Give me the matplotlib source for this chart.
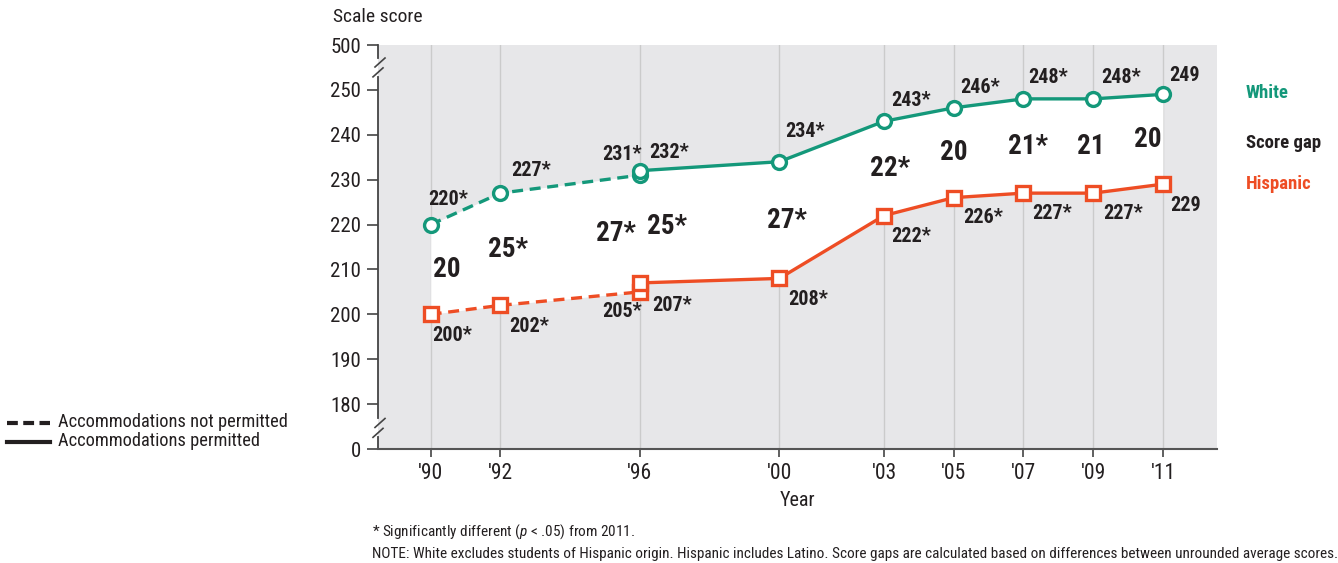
import matplotlib
matplotlib.use("Agg")
import matplotlib.pyplot as plt
from matplotlib.lines import Line2D

plt.rcParams['font.family'] = ['Roboto Condensed', 'DejaVu Sans']
plt.rcParams['mathtext.fontset'] = 'custom'
plt.rcParams['mathtext.rm'] = 'Roboto Condensed'
plt.rcParams['mathtext.it'] = 'Roboto Condensed:italic'

# accommodations not permitted
years_np = [1990, 1992, 1996]
white_np = [220, 227, 231]
hisp_np = [200, 202, 205]
white_sig_np = [True, True, True]
hisp_sig_np = [True, True, True]
gap_np = ["20", "25*", "27*"]

# accommodations permitted
years_p = [1996, 2000, 2003, 2005, 2007, 2009, 2011]
white_p = [232, 234, 243, 246, 248, 248, 249]
hisp_p = [207, 208, 222, 226, 227, 227, 229]
white_sig_p = [True, True, True, True, True, True, False]
hisp_sig_p = [True, True, True, True, True, True, False]
gap_p = ["25*", "27*", "22*", "20", "21*", "21", "20"]

tick_years = [1990, 1992, 1996, 2000, 2003, 2005, 2007, 2009, 2011]
tick_year_labels = ["'90", "'92", "'96", "'00", "'03", "'05", "'07", "'09", "'11"]
score_ticks = [180, 190, 200, 210, 220, 230, 240, 250]

green = '#14987a'
orange = '#ee4d24'
ink = '#231f20'

# label offsets in pixels (style only)
white_off_np = [(18, 25), (31, 23), (-18, 21)]
white_off_p = [(29, 18), (26, 30), (27, 21), (26, 20), (25, 21), (28, 21), (22, 19)]
hisp_off_np = [(22, -21), (29, -21), (-18, -20)]
hisp_off_p = [(32, -23), (29, -21), (27, -21), (29, -20), (29, -20), (30, -20), (23, -21)]
gap_off_np = [16, 8, -24]
gap_off_p = [27, 8, 6, 0, 5, -2, -15]

# broken axis: 0 and 500 are drawn at these positions
y_zero_pos = 170
y_top_pos = 260

fig = plt.figure(figsize=(13.38, 5.63), dpi=100)
ax = fig.add_axes([378 / 1338, 1 - 449 / 563, 839 / 1338, 404 / 563])
ax.set_facecolor('#e7e7e9')
ax.set_xlim(1988.49, 2012.55)
ax.set_ylim(y_zero_pos, y_top_pos)

ax.set_xticks(tick_years)
ax.set_xticklabels(tick_year_labels)
ax.set_yticks([y_zero_pos] + score_ticks + [y_top_pos])
ax.set_yticklabels(['0'] + [str(v) for v in score_ticks] + ['500'])
ax.tick_params(axis='y', length=8, width=1.2, color='#444444', pad=4, labelsize=15, labelcolor=ink)
ax.tick_params(axis='x', length=6, width=1.2, color='#444444', pad=4, labelsize=15.5, labelcolor=ink)
ax.grid(axis='x', color='#cbcbcb', lw=1)
ax.set_axisbelow(True)

for s in ['left', 'top', 'right']:
    ax.spines[s].set_visible(False)
ax.spines['bottom'].set_color('#555555')
ax.spines['bottom'].set_linewidth(1.5)

# left spine with two breaks
tr = ax.get_yaxis_transform()
ux = 1 / 839.0
def break_mark(yc):
    ax.plot([-3 * ux, 7 * ux], [yc, yc + 2.0], color='#444444', lw=1.2, transform=tr, clip_on=False)
    ax.plot([-5 * ux, 5 * ux], [yc - 2.2, yc - 0.2], color='#444444', lw=1.2, transform=tr, clip_on=False)

break_mark(255.1)
break_mark(174.8)
for y0, y1 in [(y_top_pos, 257.1), (252.9, 176.8), (172.6, y_zero_pos)]:
    ax.plot([0, 0], [y0, y1], color='#444444', lw=1.3, transform=tr, clip_on=False)

# white band between the two groups
all_years = years_np + years_p
ax.fill_between(all_years, white_np + white_p, hisp_np + hisp_p, color='white', lw=0, zorder=1)

dash = (0, (3.3, 2))
ax.plot(years_np, white_np, color=green, lw=2.4, ls=dash, marker='o', ms=10, mfc='white', mew=2.4, zorder=3)
ax.plot(years_p, white_p, color=green, lw=2.4, marker='o', ms=10, mfc='white', mew=2.4, zorder=3)
ax.plot(years_np, hisp_np, color=orange, lw=2.4, ls=dash, marker='s', ms=10, mfc='white', mew=2.4, zorder=3)
ax.plot(years_p, hisp_p, color=orange, lw=2.4, marker='s', ms=10, mfc='white', mew=2.4, zorder=3)

def lab(v, sig):
    return str(v) + ('*' if sig else '')

for yrs, vals, sigs, offs in [(years_np, white_np, white_sig_np, white_off_np),
                              (years_p, white_p, white_sig_p, white_off_p),
                              (years_np, hisp_np, hisp_sig_np, hisp_off_np),
                              (years_p, hisp_p, hisp_sig_p, hisp_off_p)]:
    for x, v, s, o in zip(yrs, vals, sigs, offs):
        ax.annotate(lab(v, s), (x, v), xytext=o, textcoords='offset pixels',
                    ha='center', va='center', fontsize=14.5, fontweight='bold', color=ink, zorder=4)

for yrs, w, h, g, offs in [(years_np, white_np, hisp_np, gap_np, gap_off_np),
                           (years_p, white_p, hisp_p, gap_p, gap_off_p)]:
    for x, a, b, t, o in zip(yrs, w, h, g, offs):
        ax.annotate(t, (x, (a + b) / 2.0), xytext=(o, 0), textcoords='offset pixels',
                    ha='center', va='center', fontsize=19.5, fontweight='bold', color=ink, zorder=4)

# right side labels
fig.text(1246 / 1338, 1 - 93 / 563, 'White', color=green, fontsize=13.5, fontweight='bold', va='center')
fig.text(1246 / 1338, 1 - 143 / 563, 'Score gap', color=ink, fontsize=13.5, fontweight='bold', va='center')
fig.text(1246 / 1338, 1 - 184 / 563, 'Hispanic', color=orange, fontsize=13.5, fontweight='bold', va='center')

# axis titles
fig.text(333 / 1338, 1 - 17 / 563, 'Scale score', fontsize=14, color=ink, va='center')
fig.text(797 / 1338, 1 - 500 / 563, 'Year', fontsize=14.5, color=ink, va='center', ha='center')

# legend
fig.add_artist(Line2D([7 / 1338, 50 / 1338], [1 - 423 / 563] * 2, ls=(0, (2.6, 1.3)), lw=3, color=ink))
fig.add_artist(Line2D([7 / 1338, 50 / 1338], [1 - 442 / 563] * 2, lw=3, color=ink))
fig.text(58 / 1338, 1 - 422 / 563, 'Accommodations not permitted', fontsize=13.2, color=ink, va='center')
fig.text(58 / 1338, 1 - 441 / 563, 'Accommodations permitted', fontsize=13.2, color=ink, va='center')

# notes
fig.text(372 / 1338, 1 - 532 / 563, '* Significantly different ($p$ < .05) from 2011.',
         fontsize=11, color=ink, va='center')
fig.text(372 / 1338, 1 - 554 / 563,
         'NOTE: White excludes students of Hispanic origin. Hispanic includes Latino. '
         'Score gaps are calculated based on differences between unrounded average scores.',
         fontsize=11, color=ink, va='center')

fig.savefig('out.png', dpi=100)
